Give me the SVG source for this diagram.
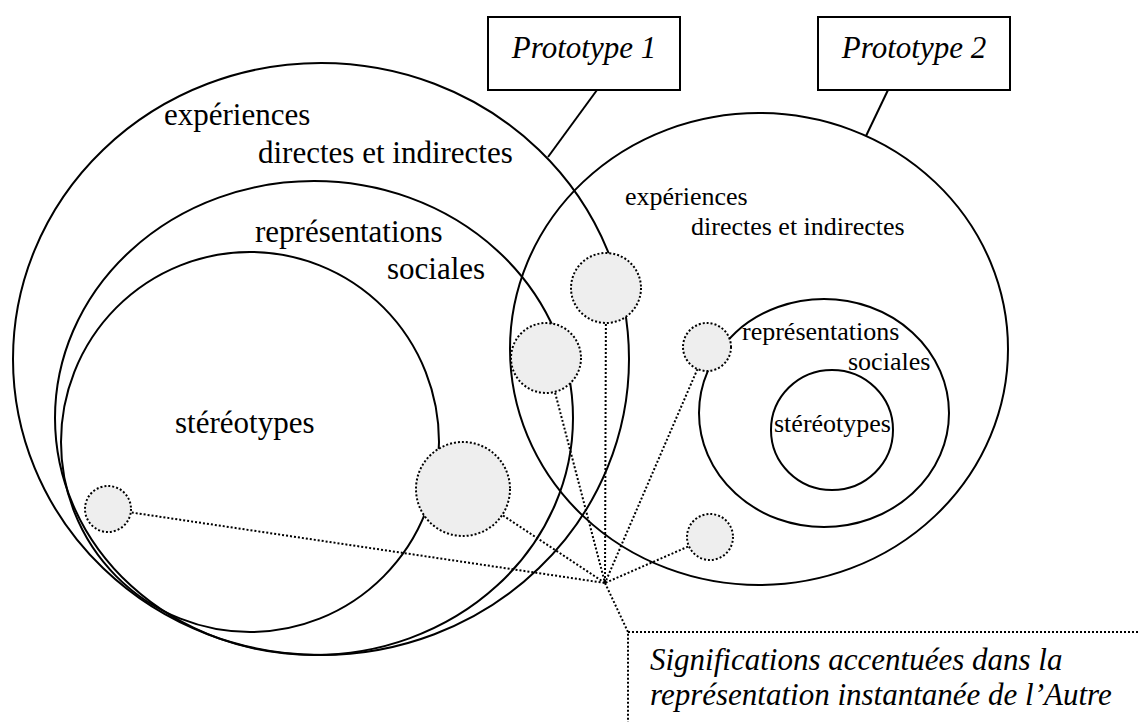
<svg xmlns="http://www.w3.org/2000/svg" width="1139" height="722" viewBox="0 0 1139 722">
<style>
.ell{fill:none;stroke:#000;stroke-width:2}
.box{fill:#fff;stroke:#000;stroke-width:2}
.dot{fill:none;stroke:#000;stroke-width:2;stroke-dasharray:2 2}
.blob{fill:#eeeeee;stroke:#000;stroke-width:2;stroke-dasharray:2 2}
.lbl{font-family:"Liberation Serif","Times New Roman",serif;fill:#000}
.big{font-size:31px}
.sm{font-size:26px}
.it{font-style:italic;font-size:31px}
</style>
<rect width="1139" height="722" fill="#fff"/>
<g id="proto1-experiences">
<ellipse class="ell" cx="321" cy="359" rx="308" ry="296"/>
<text class="lbl big" x="164" y="125">expériences</text>
<text class="lbl big" x="258" y="163">directes et indirectes</text>
</g>
<g id="proto1-representations">
<ellipse class="ell" cx="314" cy="418" rx="259" ry="237"/>
<text class="lbl big" x="255" y="242">représentations</text>
<text class="lbl big" x="387" y="279">sociales</text>
</g>
<g id="proto1-stereotypes">
<ellipse class="ell" cx="250" cy="442" rx="189" ry="190"/>
<text class="lbl big" x="175" y="433">stéréotypes</text>
</g>
<g id="proto2-experiences">
<ellipse class="ell" cx="759" cy="349" rx="249" ry="236"/>
<text class="lbl sm" x="625" y="205">expériences</text>
<text class="lbl sm" x="691" y="235">directes et indirectes</text>
</g>
<g id="proto2-representations">
<ellipse class="ell" cx="824" cy="413" rx="125" ry="114"/>
<text class="lbl sm" x="742" y="340">représentations</text>
<text class="lbl sm" x="848" y="370">sociales</text>
</g>
<g id="proto2-stereotypes">
<ellipse class="ell" cx="832" cy="430" rx="61" ry="60"/>
<text class="lbl sm" x="774" y="432">stéréotypes</text>
</g>
<g id="connectors">
<line x1="597" y1="90" x2="548" y2="157" stroke="#000" stroke-width="2"/>
<line x1="888" y1="90" x2="866" y2="136" stroke="#000" stroke-width="2"/>
<line class="dot" x1="108" y1="509" x2="605" y2="583"/>
<line class="dot" x1="463" y1="489" x2="605" y2="583"/>
<line class="dot" x1="546" y1="358" x2="605" y2="583"/>
<line class="dot" x1="606" y1="288" x2="605" y2="583"/>
<line class="dot" x1="707" y1="347" x2="605" y2="583"/>
<line class="dot" x1="710" y1="537" x2="605" y2="583"/>
<polyline class="dot" points="605,583 628,632 628,722"/>
<line class="dot" x1="628" y1="632" x2="1139" y2="632"/>
</g>
<g id="meanings">
<circle class="blob" cx="108" cy="509" r="23"/>
<circle class="blob" cx="463" cy="489" r="47"/>
<circle class="blob" cx="546" cy="358" r="35"/>
<circle class="blob" cx="606" cy="288" r="35"/>
<circle class="blob" cx="707" cy="347" r="24"/>
<circle class="blob" cx="710" cy="537" r="23"/>
</g>
<g id="prototype1">
<rect class="box" x="488" y="17" width="192" height="73"/>
<text class="lbl it" x="584" y="58" text-anchor="middle">Prototype 1</text>
</g>
<g id="prototype2">
<rect class="box" x="818" y="17" width="192" height="73"/>
<text class="lbl it" x="914" y="58" text-anchor="middle">Prototype 2</text>
</g>
<g id="callout">
<text class="lbl it" x="650" y="670">Significations accentuées dans la</text>
<text class="lbl it" x="650" y="705">représentation instantanée de l’Autre</text>
</g>
</svg>
